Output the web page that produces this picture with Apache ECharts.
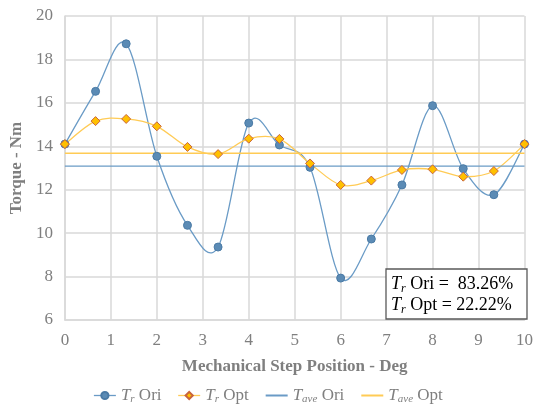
<!DOCTYPE html>
<html><head><meta charset="utf-8">
<script src="https://cdn.jsdelivr.net/npm/echarts@6/dist/echarts.min.js"></script>
<style>html,body{margin:0;padding:0;background:#fff}#c{width:536px;height:407px}</style>
</head><body><div id="c"></div>
<script>
const xPos = [0, 0.667, 1.333, 2, 2.667, 3.333, 4, 4.667, 5.333, 6, 6.667, 7.333, 8, 8.667, 9.333, 10];
const trOri = [14.1, 16.53, 18.72, 13.54, 10.36, 9.36, 15.07, 14.06, 13.03, 7.93, 9.73, 12.22, 15.87, 12.97, 11.77, 14.1];
const trOpt = [14.1, 15.16, 15.26, 14.92, 13.97, 13.64, 14.35, 14.34, 13.21, 12.22, 12.42, 12.91, 12.94, 12.6, 12.86, 14.1];
const taveOri = 13.09;
const taveOpt = 13.68;
const xTicks = [0,1,2,3,4,5,6,7,8,9,10];
const yTicks = [6,8,10,12,14,16,18,20];

const gray = '#7f7f7f';
const font = 'Liberation Serif';
const blueLine = '#6a9bc6';
const orange = '#ffcb55';
const chart = echarts.init(document.getElementById('c'));
const pair = (xs, ys) => xs.map((x, i) => [x, ys[i]]);

function curveSeries(xs, ys, color) {
  return {
    type: 'custom', silent: true, z: 1, data: pair(xs, ys),
    renderItem: function (params, api) {
      if (params.dataIndex !== 0) return null;
      const p = xs.map((x, i) => api.coord([x, ys[i]]));
      let d = 'M' + p[0][0] + ' ' + p[0][1];
      for (let i = 0; i < p.length - 1; i++) {
        const a = p[Math.max(i - 1, 0)], b = p[i], c = p[i + 1], e = p[Math.min(i + 2, p.length - 1)];
        const c1 = [b[0] + (c[0] - a[0]) / 6, b[1] + (c[1] - a[1]) / 6];
        const c2 = [c[0] - (e[0] - b[0]) / 6, c[1] - (e[1] - b[1]) / 6];
        d += ' C' + c1[0] + ' ' + c1[1] + ' ' + c2[0] + ' ' + c2[1] + ' ' + c[0] + ' ' + c[1];
      }
      return {type: 'path', shape: {pathData: d}, style: {fill: 'none', stroke: color, lineWidth: 1.3}};
    }
  };
}

const rich = {
  it: {fontStyle: 'italic', fontFamily: font, fontSize: 17, color: gray},
  sub: {fontStyle: 'italic', fontFamily: font, fontSize: 11, color: gray, verticalAlign: 'bottom', padding: [8,0,0,0]},
  n: {fontFamily: font, fontSize: 17, color: gray}
};
const rich2 = {
  it: {fontStyle: 'italic', fontFamily: font, fontSize: 18, color: gray},
  sub: {fontStyle: 'italic', fontFamily: font, fontSize: 12, color: gray, verticalAlign: 'bottom', padding: [9,0,0,0]},
  n: {fontFamily: font, fontSize: 18, color: gray}
};
const legendNames = {
  'Tr Ori': '{it|T}{sub|r}{n| Ori}',
  'Tr Opt': '{it|T}{sub|r}{n| Opt}',
  'Tave Ori': '{it|T}{sub|ave}{n| Ori}',
  'Tave Opt': '{it|T}{sub|ave}{n| Opt}'
};
chart.setOption({
  animation: false,
  grid: {left: 64, right: 9, top: 16, bottom: 87},
  xAxis: {
    type: 'value', min: xTicks[0], max: xTicks[xTicks.length-1], interval: 1,
    name: 'Mechanical Step Position - Deg', nameLocation: 'middle', nameGap: 38,
    nameTextStyle: {fontFamily: font, fontSize: 17, fontWeight: 'bold', color: gray},
    axisLine: {lineStyle: {color: '#d9d9d9', width: 1.5}},
    axisTick: {show: false},
    axisLabel: {fontFamily: font, fontSize: 17, color: gray, margin: 12},
    splitLine: {show: true, lineStyle: {color: '#d9d9d9', width: 1.5}}
  },
  yAxis: {
    type: 'value', min: yTicks[0], max: yTicks[yTicks.length-1], interval: 2,
    name: 'Torque - Nm', nameLocation: 'middle', nameGap: 36,
    nameTextStyle: {fontFamily: font, fontSize: 17, fontWeight: 'bold', color: gray},
    axisLine: {show: true, lineStyle: {color: '#d9d9d9', width: 1.5}},
    axisTick: {show: false},
    axisLabel: {fontFamily: font, fontSize: 17, color: gray, margin: 12},
    splitLine: {show: true, lineStyle: {color: '#d9d9d9', width: 1.5}}
  },
  legend: {
    bottom: -3, left: 'center', itemGap: 16, itemWidth: 22, itemHeight: 9,
    data: [
      {name: 'Tr Ori', lineStyle: {width: 1.3, color: blueLine, opacity: 1}},
      {name: 'Tr Opt', lineStyle: {width: 1.3, color: orange, opacity: 1}},
      {name: 'Tave Ori', itemStyle: {opacity: 0}},
      {name: 'Tave Opt', itemStyle: {opacity: 0}}
    ],
    formatter: n => legendNames[n],
    textStyle: {rich: rich, color: gray}
  },
  series: [
    curveSeries(xPos, trOri, blueLine),
    curveSeries(xPos, trOpt, orange),
    {name: 'Tr Ori', type: 'line', data: pair(xPos, trOri),
     symbol: 'circle', symbolSize: 8,
     lineStyle: {color: blueLine, width: 0, opacity: 0},
     itemStyle: {color: '#5b8bb5', borderColor: '#4a7aa5', borderWidth: 1}, z: 3},
    {name: 'Tr Opt', type: 'line', data: pair(xPos, trOpt),
     symbol: 'diamond', symbolSize: 9,
     lineStyle: {color: orange, width: 0, opacity: 0},
     itemStyle: {color: '#ffc000', borderColor: '#c8643c', borderWidth: 1}, z: 4},
    {name: 'Tave Ori', type: 'line', data: [[0, taveOri], [10, taveOri]], symbol: 'none',
     lineStyle: {color: blueLine, width: 1.3}, itemStyle: {color: blueLine}, z: 2},
    {name: 'Tave Opt', type: 'line', data: [[0, taveOpt], [10, taveOpt]], symbol: 'none',
     lineStyle: {color: orange, width: 1.3}, itemStyle: {color: orange}, z: 2}
  ],
  graphic: [
    {type: 'rect', shape: {x: 386, y: 269, width: 141, height: 50},
     style: {fill: '#fff', stroke: '#595959', lineWidth: 1.3}, z: 10},
    {type: 'text', left: 391, top: 275, z: 11,
     style: {text: '{it|T}{sub|r}{n| Ori =  83.26%}', rich: rich2}},
    {type: 'text', left: 391, top: 296, z: 11,
     style: {text: '{it|T}{sub|r}{n| Opt = 22.22%}', rich: rich2}}
  ]
});
</script></body></html>
